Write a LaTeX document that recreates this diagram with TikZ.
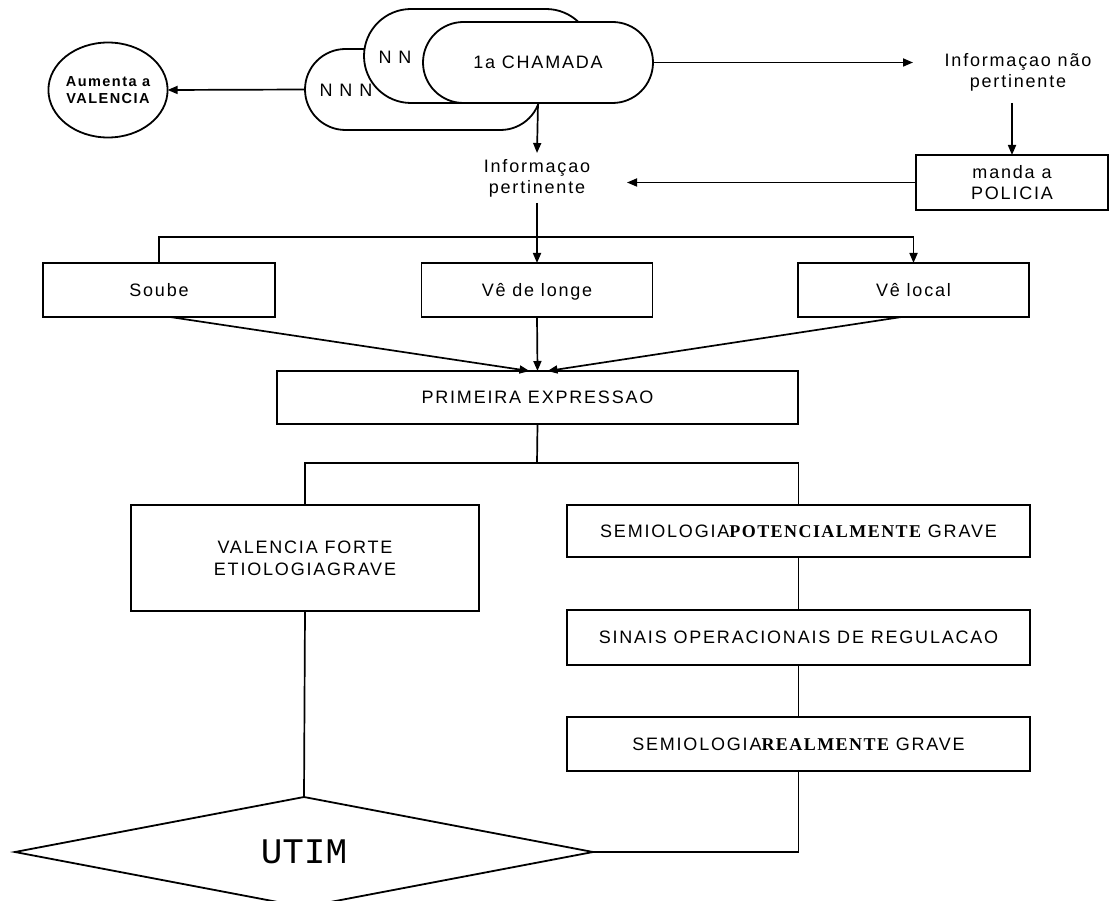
\documentclass[tikz,border=0pt]{standalone}
\usepackage{fontspec}
\setmainfont{Liberation Sans}[LetterSpace=10]
\newfontfamily\heavyserif{Liberation Serif}[LetterSpace=8]
\newfontfamily\typewriter{Liberation Mono}
\usetikzlibrary{arrows.meta,shapes.geometric,calc}

\begin{document}
\begin{tikzpicture}[x=1pt,y=-1pt,line width=1.7pt,
  every node/.style={font=\fontsize{18}{21}\selectfont, inner sep=0pt, outer sep=0pt},
  arr/.style={-{Triangle[length=10pt,width=8pt]}},
  box/.style={draw, line width=1.8pt, fill=white, align=center},
  single/.style={text height=16pt, text depth=3.6pt},
  pill/.style={draw, line width=1.8pt, fill=white, rounded corners=#1},
  txt/.style={align=center}]

\useasboundingbox[fill=white] (0,0) rectangle (1113,901);

% stacked call cards
\node[pill=40.5pt, minimum width=236, minimum height=81] (back) at (423,89.5) {};
\node[single] (nnn) at (346,90) {N N N};
\node[pill=47pt, minimum width=229, minimum height=94] (middle) at (478.5,56) {};
\node[single] (nn) at (395,57) {N N};
\node[pill=40.5pt, minimum width=230, minimum height=81, single] (front) at (538,62.5) {1a CHAMADA};

% valence circle
\node[draw, ellipse, line width=1.8pt, minimum width=102, minimum height=95, align=center,
      font=\bfseries\fontsize{14.5}{17}\selectfont] (aum) at (108,90) {Aumenta a\\VALENCIA};

% information routing
\node[txt, minimum width=210, minimum height=61] (inp) at (1018,72.5) {Informaçao não\\pertinente};
\node[box, minimum width=192, minimum height=55] (pol) at (1012,182.5) {manda a\\POLICIA};
\node[txt, minimum width=180, minimum height=50] (ip) at (537,178) {Informaçao\\pertinente};

% how the caller knows
\node[box, single, minimum width=232, minimum height=54] (soube) at (159,290) {Soube};
\node[box, single, minimum width=231, minimum height=54] (longe) at (537,290) {Vê de longe};
\node[box, single, minimum width=231, minimum height=54] (local) at (913.5,290) {Vê local};

\node[box, single, minimum width=521, minimum height=53] (prim) at (537.5,397.5) {PRIMEIRA EXPRESSAO};

% two branches
\node[box, minimum width=348, minimum height=106] (val) at (305,558) {VALENCIA FORTE\\[1pt]ETIOLOGIAGRAVE};
\node[box, single, minimum width=463, minimum height=52] (sempot) at (798.5,531)
  {SEMIOLOGIA{\heavyserif\bfseries POTENCIALMENTE} GRAVE};
\node[box, single, minimum width=463, minimum height=55] (sinais) at (798.5,637.5)
  {SINAIS OPERACIONAIS DE REGULACAO};
\node[box, single, minimum width=463, minimum height=54] (real) at (798.5,744)
  {SEMIOLOGIA{\heavyserif\bfseries REALMENTE} GRAVE};

\node[draw, diamond, aspect=5.2, line width=1.8pt, minimum width=578, minimum height=110,
      font=\typewriter\fontsize{36}{40}\selectfont] (utim) at (304,852) {UTIM};

% connectors
\draw[arr] (back.west) -- (aum.east);
\draw[arr] (front.east) -- (front.east -| inp.west);
\draw[arr] (inp.south -| pol.north) -- (pol.north);
\draw[arr] (pol.west) -- (pol.west -| ip.east);
\draw[arr] (front.south) -- (ip.north);
\draw[arr] (ip.south) -- (longe.north);
\coordinate (fork) at (537,237);
\draw[arr] (soube.north) |- (fork) -| (local.north);
\draw[arr] ($(soube.south)+(11,0)$) -- ($(prim.north)+(-8,0)$);
\draw[arr] (longe.south) -- (prim.north);
\draw[arr] ($(local.south)+(-12,0)$) -- ($(prim.north)+(10,0)$);
\coordinate (fork2) at (537,463);
\draw (prim.south) -- (fork2);
\draw (val.north) |- (fork2) -| (sempot.north);
\draw (sempot.south) -- (sinais.north);
\draw (sinais.south) -- (real.north);
\draw (real.south) |- (utim.east);
\draw (val.south) -- (utim.north);
\end{tikzpicture}
\end{document}
